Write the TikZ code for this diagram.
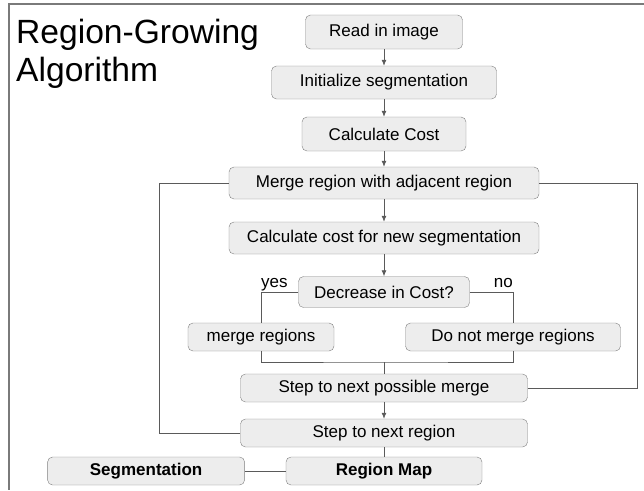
\documentclass[tikz,border=0pt]{standalone}
\usepackage{fontspec}
\setmainfont{Liberation Sans}
\usepackage{tikz}
\usetikzlibrary{positioning,arrows.meta}
\definecolor{boxfill}{HTML}{EDEDED}
\definecolor{boxline}{HTML}{7F7F7F}
\definecolor{linkline}{HTML}{5A5A5A}
\definecolor{frameline}{HTML}{7A7A7A}

\begin{document}
\begin{tikzpicture}[x=1pt,y=-1pt,>={Latex[length=6pt,width=5pt]},
    stepbox/.style={draw=boxline,fill=boxfill,rounded corners=5pt,inner sep=0pt,
        minimum height=32pt,font=\fontsize{17}{20}\selectfont},
    link/.style={draw=linkline,line width=0.8pt},
    answer/.style={inner sep=0pt,font=\fontsize{17}{20}\selectfont}]
    \useasboundingbox (0,0) rectangle (644,490);
    %%%%% THE FRAME AND TITLE
    \draw[frameline,line width=2pt] (644,4) -- (9,4) -- (9,490);
    \node[anchor=base west,inner sep=0pt,font=\fontsize{33.6}{38}\selectfont] (TITLE1) at (16,43) {Region-Growing};
    \node[anchor=base west,inner sep=0pt,font=\fontsize{33.6}{38}\selectfont] (TITLE2) at (16,81) {Algorithm};
    %%%%% THE MAIN COLUMN
    \node[stepbox,minimum width=157pt,minimum height=34pt] (READ) at (384,32) {Read in image};
    \node[stepbox,minimum width=225pt,minimum height=33pt] (INIT) at (384,82.5) {Initialize segmentation};
    \node[stepbox,minimum width=164pt,minimum height=34pt] (COST) at (384,134) {Calculate Cost};
    \node[stepbox,minimum width=310pt] (MERGE) at (384,183) {Merge region with adjacent region};
    \node[stepbox,minimum width=310pt] (NEWCOST) at (384,238) {Calculate cost for new segmentation};
    \node[stepbox,minimum width=171pt,minimum height=31pt] (DECR) at (384,292) {Decrease in Cost?};
    %%%%% THE TWO CHOICES
    \node[stepbox,minimum width=146pt,minimum height=28pt] (MREG) at (261,337) {merge regions};
    \node[stepbox,minimum width=215pt,minimum height=28pt] (NOMREG) at (513,337) {Do not merge regions};
    \node[stepbox,minimum width=287pt,minimum height=28pt] (STEPPOS) at (384,388) {Step to next possible merge};
    \node[stepbox,minimum width=287pt,minimum height=28pt] (STEPREG) at (384,433) {Step to next region};
    %%%%% THE OUTPUT
    \node[stepbox,minimum width=196pt,minimum height=28pt] (RMAP) at (384,471) {\bfseries Region Map};
    \node[stepbox,minimum width=197pt,minimum height=28pt,left=41pt of RMAP] (SEG) {\bfseries Segmentation};
    %%%%% LINKS
    \coordinate (LEFTLOOP) at (159,0);
    \coordinate (RIGHTLOOP) at (637,0);
    \coordinate (JOIN) at (384,362);
    \draw[link,->] (READ) -- (INIT);
    \draw[link,->] (INIT) -- (COST);
    \draw[link,->] (COST) -- (MERGE);
    \draw[link,->] (MERGE) -- (NEWCOST);
    \draw[link,->] (NEWCOST) -- (DECR);
    \draw[link] (DECR.west) -| (MREG.north);
    \draw[link] (DECR.east) -| (NOMREG.north);
    \node[answer,anchor=base west] (YES) at ([yshift=5pt]MREG.north |- DECR.west) {yes};
    \node[answer,anchor=base east] (NO) at ([yshift=5pt]NOMREG.north |- DECR.east) {no};
    \draw[link] (MREG.south) |- (JOIN) -| (NOMREG.south);
    \draw[link] (JOIN) -- (STEPPOS.north);
    \draw[link,->] (STEPPOS) -- (STEPREG);
    \draw[link] (STEPREG) -- (RMAP);
    \draw[link] (SEG) -- (RMAP);
    %%%% LOOPS BACK TO THE MERGE STEP
    \draw[link] (STEPREG.west) -- (STEPREG.west -| LEFTLOOP) |- (MERGE.west);
    \draw[link] (STEPPOS.east) -- (STEPPOS.east -| RIGHTLOOP) |- (MERGE.east);
\end{tikzpicture}
\end{document}
